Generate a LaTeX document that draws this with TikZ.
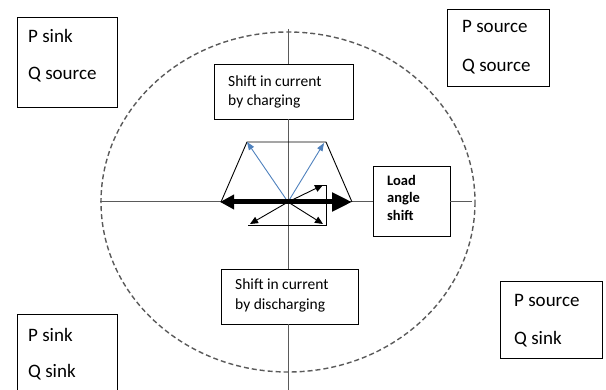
\documentclass[tikz,border=0pt]{standalone}
\usepackage{fontspec}
\setmainfont{Carlito}
\usetikzlibrary{arrows.meta}
\definecolor{vecblue}{RGB}{79,129,189}
\definecolor{axisgray}{RGB}{90,90,90}
\begin{document}
\begin{tikzpicture}[x=1pt,y=-1pt,
  box/.style={draw=black, line width=0.9pt, inner sep=0pt, minimum width=#1},
  cornertxt/.style={anchor=base west, inner sep=0pt, font=\fontsize{19}{22}\selectfont},
  midtxt/.style={anchor=base west, inner sep=0pt, font=\fontsize{15.5}{19}\selectfont},
  loadtxt/.style={anchor=base west, inner sep=0pt, font=\bfseries\fontsize{14.5}{18}\selectfont},
  axisline/.style={draw=axisgray, line width=1pt},
  thinline/.style={draw=black, line width=0.9pt},
  smallvec/.style={draw=black, line width=0.9pt, -{Triangle[length=8pt,width=7pt]}},
  bluevec/.style={draw=vecblue, line width=0.9pt, -{Triangle[length=8pt,width=6pt]}},
  bigvec/.style={draw=black, line width=5pt, {Triangle[length=14pt,width=14pt]}-{Triangle[length=20pt,width=18pt]}, shorten <=-1pt}
]
\useasboundingbox (0,0) rectangle (606,390);

% dashed boundary circle
\draw[draw=axisgray, line width=1.4pt, dash pattern=on 5pt off 3pt] (288,202) ellipse [x radius=187, y radius=170];

% corner boxes
\node[box=100, minimum height=90] (tl) at (67,62) {};
\node[cornertxt] (tl1) at (28,43) {P sink};
\node[cornertxt] (tl2) at (28,80) {Q source};

\node[box=102, minimum height=77] (tr) at (498,47.5) {};
\node[cornertxt] (tr1) at (462,33) {P source};
\node[cornertxt] (tr2) at (462,72) {Q source};

\node[box=102, minimum height=77] (br) at (551,319.5) {};
\node[cornertxt] (br1) at (514,307) {P source};
\node[cornertxt] (br2) at (514,345) {Q sink};

\node[box=100, minimum height=90] (bl) at (67,359) {};
\node[cornertxt] (bl1) at (28,342) {P sink};
\node[cornertxt] (bl2) at (28,378) {Q sink};

% central boxes
\node[box=139, minimum height=55, fill=white] (chg) at (283.5,91.5) {};
\node[midtxt] (chg1) at (228,87) {Shift in current};
\node[midtxt] (chg2) at (228,106) {by charging};

\node[box=137, minimum height=55, fill=white] (dis) at (289.5,296.5) {};
\node[midtxt] (dis1) at (235,290) {Shift in current};
\node[midtxt] (dis2) at (235,310) {by discharging};

\node[box=77, minimum height=70, fill=white] (load) at (411.5,201) {};
\node[loadtxt] (load1) at (387,186) {Load};
\node[loadtxt] (load2) at (387,203) {angle};
\node[loadtxt] (load3) at (387,221) {shift};

% axes
\coordinate (O) at (288,202);
\coordinate (vtop) at (288,29);
\coordinate (vbot) at (288,390);
\coordinate (hleft) at (100,202);
\coordinate (hright) at (472,202);
\draw[axisline] (vtop) -- (vtop |- chg.north);
\draw[axisline] (chg.south -| vtop) -- (dis.north -| vtop);
\draw[axisline] (dis.south -| vtop) -- (vbot);
\draw[axisline] (hleft) -- (hleft -| load.west);
\draw[axisline] (load.east |- hright) -- (hright);

% trapezoid
\coordinate (tpl) at (247,142);
\coordinate (tpr) at (326,142);
\coordinate (tbl) at (221,202);
\coordinate (tbr) at (352,202);
\draw[thinline] (tbl) -- (tpl) -- (tpr) -- (tbr);

% small rectangle frame
\coordinate (f1) at (316,185);
\coordinate (f2) at (326,185);
\coordinate (f3) at (326,225);
\coordinate (f4) at (248,225);
\draw[thinline] (f1) -- (f2) -- (f3) -- (f4);

% vectors
\draw[bluevec] (O) -- (tpl);
\draw[bluevec] (O) -- (324,143);
\coordinate (s1) at (323,185);
\coordinate (s2) at (250,224);
\coordinate (s3) at (323,224);
\draw[smallvec] (O) -- (s1);
\draw[smallvec] (O) -- (s2);
\draw[smallvec] (O) -- (s3);
\draw[bigvec] (tbl) -- (tbr);
\end{tikzpicture}
\end{document}
